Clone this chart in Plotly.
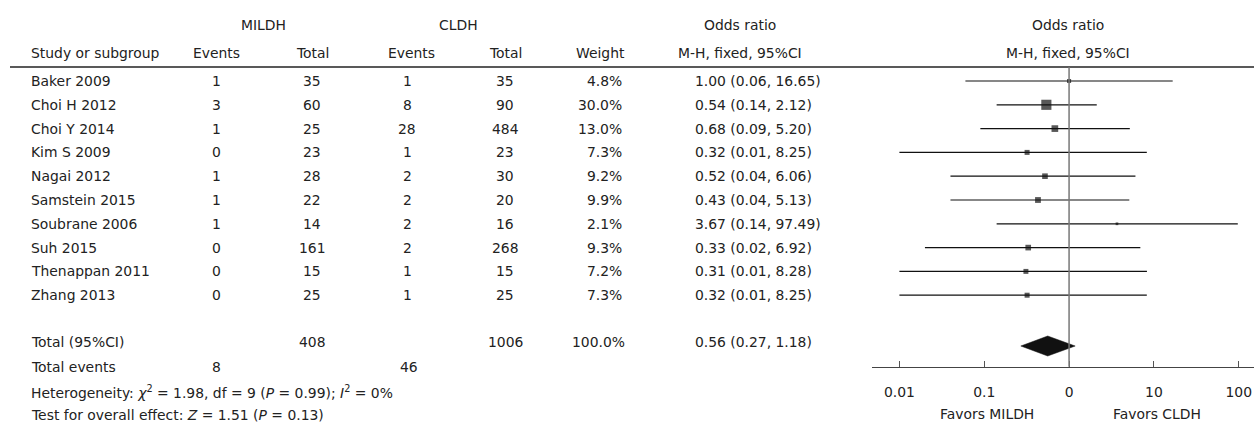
import math
import plotly.graph_objects as go

# ---- study-level data ----
studies = ["Baker 2009", "Choi H 2012", "Choi Y 2014", "Kim S 2009", "Nagai 2012",
           "Samstein 2015", "Soubrane 2006", "Suh 2015", "Thenappan 2011", "Zhang 2013"]
mildh_events = [1, 3, 1, 0, 1, 1, 1, 0, 0, 0]
mildh_total = [35, 60, 25, 23, 28, 22, 14, 161, 15, 25]
cldh_events = [1, 8, 28, 1, 2, 2, 2, 2, 1, 1]
cldh_total = [35, 90, 484, 23, 30, 20, 16, 268, 15, 25]
weights = [4.8, 30.0, 13.0, 7.3, 9.2, 9.9, 2.1, 9.3, 7.2, 7.3]
or_est = [1.00, 0.54, 0.68, 0.32, 0.52, 0.43, 3.67, 0.33, 0.31, 0.32]
or_low = [0.06, 0.14, 0.09, 0.01, 0.04, 0.04, 0.14, 0.02, 0.01, 0.01]
or_high = [16.65, 2.12, 5.20, 8.25, 6.06, 5.13, 97.49, 6.92, 8.28, 8.25]

# ---- pooled results ----
pooled_mildh_total = 408
pooled_cldh_total = 1006
pooled_weight = 100.0
pooled_or = [0.56, 0.27, 1.18]  # estimate, lower, upper
events_mildh_sum = 8
events_cldh_sum = 46
chi2, df, p_het, i2 = 1.98, 9, 0.99, 0
z_stat, p_overall = 1.51, 0.13

# ---- forest axis ticks ----
tick_values = [0.01, 0.1, 1, 10, 100]
tick_labels = ["0.01", "0.1", "0", "10", "100"]

W, H = 1254, 423
FONT = "DejaVu Sans"
FS = 13.9
TXT = "#222222"
INK = "#111111"

row_y0, row_step = 81.0, 23.8
row_y = [row_y0 + i * row_step for i in range(len(studies))]
total_y = 342.0
events_y = 367.0
het_y = 392.0
test_y = 415.0
hdr1_y, hdr2_y = 25.0, 53.0
rule_y = 67.0
axis_y = 366.7

forest_left = 872
log_range = [-2.323, 2.18]

fig = go.Figure()

# confidence-interval whiskers
cx, cy = [], []
for lo, hi, y in zip(or_low, or_high, row_y):
    cx += [lo, hi, None]
    cy += [y, y, None]
fig.add_trace(go.Scatter(x=cx, y=cy, mode="lines", xaxis="x2", yaxis="y",
                         line=dict(color=INK, width=1.2), hoverinfo="skip", showlegend=False))

# weighted point estimates
fig.add_trace(go.Scatter(x=or_est, y=row_y, mode="markers", xaxis="x2", yaxis="y",
                         marker=dict(symbol="square", color=INK,
                                     size=[1.85 * math.sqrt(w) for w in weights],
                                     line=dict(width=0)),
                         showlegend=False))

# pooled diamond
est, lo, hi = pooled_or
dy = 346.0
half = 10
fig.add_trace(go.Scatter(x=[lo, est, hi, est, lo], y=[dy, dy - half, dy, dy + half, dy],
                         mode="lines", fill="toself", fillcolor=INK, xaxis="x2", yaxis="y",
                         line=dict(color=INK, width=0.5), hoverinfo="skip", showlegend=False))

ann = []


def txt(x, y, s, anchor="center", size=FS):
    ann.append(dict(x=x, y=y, xref="x", yref="y", text=s, showarrow=False,
                    xanchor=anchor, yanchor="middle",
                    font=dict(family=FONT, size=size, color=TXT)))


# column headers
txt(263, hdr1_y, "MILDH")
txt(458, hdr1_y, "CLDH")
txt(740, hdr1_y, "Odds ratio")
txt(1068, hdr1_y, "Odds ratio")
txt(29, hdr2_y, "Study or subgroup", "left")
txt(216, hdr2_y, "Events")
txt(312, hdr2_y, "Total")
txt(411, hdr2_y, "Events")
txt(505, hdr2_y, "Total")
txt(600, hdr2_y, "Weight")
txt(740, hdr2_y, "M-H, fixed, 95%CI")
txt(1068, hdr2_y, "M-H, fixed, 95%CI")

# study rows
for i, y in enumerate(row_y):
    txt(29, y, studies[i], "left")
    txt(216, y, str(mildh_events[i]))
    txt(312, y, str(mildh_total[i]))
    txt(407, y, str(cldh_events[i]))
    txt(505, y, str(cldh_total[i]))
    txt(624, y, f"{weights[i]:.1f}%", "right")
    txt(693, y, f"{or_est[i]:.2f} ({or_low[i]:.2f}, {or_high[i]:.2f})", "left")

# totals
txt(29, total_y, "Total (95%CI)", "left")
txt(312, total_y, str(pooled_mildh_total))
txt(505, total_y, str(pooled_cldh_total))
txt(627, total_y, f"{pooled_weight:.1f}%", "right")
txt(693, total_y, f"{pooled_or[0]:.2f} ({pooled_or[1]:.2f}, {pooled_or[2]:.2f})", "left")
txt(29, events_y, "Total events", "left")
txt(216, events_y, str(events_mildh_sum))
txt(409, events_y, str(events_cldh_sum))
txt(29, het_y, f"Heterogeneity: <i>χ</i><sup>2</sup> = {chi2:.2f}, df = {df} "
               f"(<i>P</i> = {p_het:.2f}); <i>I</i><sup>2</sup> = {i2}%", "left")
txt(29, test_y, f"Test for overall effect: <i>Z</i> = {z_stat:.2f} (<i>P</i> = {p_overall:.2f})", "left")

# favours labels under the axis
txt(987, 414, "Favors MILDH")
txt(1157, 414, "Favors CLDH")

shapes = [
    dict(type="line", xref="x", yref="y", x0=10, x1=W, y0=rule_y, y1=rule_y,
         line=dict(color="#222222", width=1.5)),
    dict(type="line", xref="x2", yref="y", x0=1, x1=1, y0=rule_y, y1=axis_y,
         line=dict(color="#777777", width=1.5)),
]

fig.update_layout(
    width=W, height=H, margin=dict(l=0, r=0, t=0, b=0),
    paper_bgcolor="white", plot_bgcolor="white",
    annotations=ann, shapes=shapes,
    xaxis=dict(range=[0, W], domain=[0, 1], visible=False, fixedrange=True),
    yaxis=dict(range=[H, 0], domain=[0, 1], visible=False, fixedrange=True),
    xaxis2=dict(type="log", range=log_range, domain=[forest_left / W, 1],
                anchor="free", position=(H - axis_y) / H,
                showgrid=False, zeroline=False, showline=True,
                linecolor="#444444", linewidth=1,
                ticks="inside", ticklen=6, tickcolor="#555555", tickwidth=1,
                tickvals=tick_values, ticktext=tick_labels, ticklabelstandoff=13,
                tickfont=dict(family=FONT, size=FS, color=TXT)),
    showlegend=False,
)

fig.write_html("out.html")
